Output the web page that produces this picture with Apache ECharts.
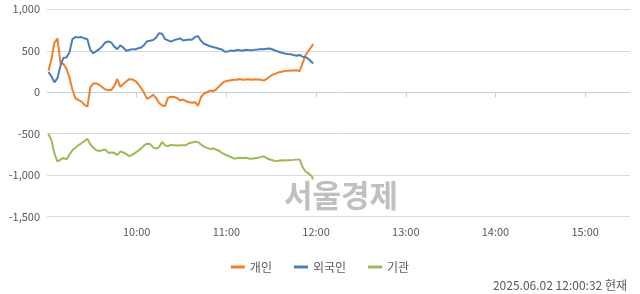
<!DOCTYPE html>
<html><head><meta charset="utf-8">
<script src="https://cdn.jsdelivr.net/npm/echarts@6/dist/echarts.min.js"></script>
<style>html,body{margin:0;padding:0;background:#fff}#c{width:640px;height:294px}</style>
</head><body><div id="c"></div>
<script>
// minutes after 09:00
var times = [1,3,5,7,9,11,13,15,17,19,21,23,25,27,29,31,33,35,37,39,41,43,45,47,49,51,53,55,57,59,61,63,65,67,69,71,73,75,77,79,81,83,85,87,89,91,93,95,97,99,101,103,105,107,109,111,113,115,117,119,121,123,125,127,129,131,133,135,137,139,141,143,145,147,149,151,153,155,157,159,161,163,165,167,169,171,173,175,177,178];
var individual = [258,400,600,650,350,340,285,180,30,-70,-95,-110,-150,-175,60,107,107,90,60,35,25,30,75,160,65,100,130,158,155,138,100,50,-10,-80,-60,-30,-70,-130,-160,-165,-65,-55,-58,-70,-100,-88,-108,-120,-127,-120,-165,-60,-15,0,20,15,30,70,105,131,138,145,152,150,160,150,155,158,152,158,155,150,140,160,190,212,225,240,248,255,258,262,262,265,255,350,450,500,550,583];
var foreign = [245,190,120,170,320,416,420,480,640,665,660,665,650,640,510,470,495,520,555,600,612,600,550,520,565,540,500,510,520,515,530,540,570,615,620,630,660,712,705,640,625,610,628,638,650,625,630,635,632,665,678,620,585,570,555,545,537,525,515,488,490,505,498,510,505,500,512,508,505,512,515,520,518,525,528,515,500,488,476,468,462,458,448,440,450,428,425,400,365,345];
var institution = [-500,-580,-740,-835,-812,-790,-810,-750,-700,-670,-640,-615,-590,-560,-630,-665,-700,-708,-700,-690,-728,-725,-730,-755,-715,-725,-745,-770,-755,-730,-705,-680,-640,-620,-625,-665,-680,-660,-600,-640,-650,-632,-640,-642,-640,-638,-638,-615,-605,-595,-600,-630,-655,-670,-683,-678,-690,-705,-730,-750,-765,-780,-800,-795,-790,-792,-790,-798,-802,-795,-790,-782,-772,-795,-810,-820,-830,-825,-820,-822,-818,-820,-815,-812,-810,-900,-955,-980,-1010,-1048];
var seriesNames = ['개인','외국인','기관'];
var hourTicks = [60,120,180,240,300,360];
var hourLabels = ['10:00','11:00','12:00','13:00','14:00','15:00'];
var stampText = '2025.06.02 12:00:32 현재';
var watermark = '서울경제';

function pairs(v){ return times.map(function(t,i){ return [t, v[i]]; }); }
var colors = ['#F07F2A','#4A7EBB','#9BBB59'];
var font = '"Noto Sans CJK KR", "Noto Sans", sans-serif';
var chart = echarts.init(document.getElementById('c'), null, {renderer:'canvas'});
chart.setOption({
  animation:false,
  color: colors,
  grid:{left:47, right:10, top:9.3, bottom:77.3, containLabel:false},
  legend:{
    data: seriesNames, top:256, left:'center', icon:'rect', itemWidth:14, itemHeight:3, itemGap:22,
    textStyle:{color:'#595959', fontSize:12, fontFamily:font}
  },
  xAxis:{
    type:'value', min:0, max:390,
    axisLine:{show:true, lineStyle:{color:'#C5D0E3', width:1}},
    axisTick:{show:true, length:5, customValues: hourTicks, lineStyle:{color:'#C5D0E3'}},
    axisLabel:{customValues: hourTicks, margin:10, color:'#595959', fontSize:11, fontFamily:font,
      formatter:function(v){ return hourLabels[hourTicks.indexOf(v)] || ''; }},
    splitLine:{show:false}
  },
  yAxis:{
    type:'value', min:-1500, max:1000, interval:500,
    axisLine:{show:false}, axisTick:{show:false},
    axisLabel:{margin:7, color:'#595959', fontSize:11, fontFamily:font,
      formatter:function(v){ return v.toLocaleString('en-US'); }},
    splitLine:{lineStyle:{color:'#D9D9D9'}}
  },
  graphic:[
    {type:'text', left:284, top:180, z:-1, style:{text:watermark, font:'bold 31px "Noto Sans CJK KR"', fill:'#C0C0C0'}},
    {type:'text', right:13, top:279, style:{text:stampText, font:'12px ' + font, fill:'#595959'}}
  ],
  series: [individual, foreign, institution].map(function(v,i){
    return {name:seriesNames[i], type:'line', data:pairs(v), showSymbol:false, symbol:'none',
      lineStyle:{width:2, color:colors[i]}, itemStyle:{color:colors[i]}};
  })
});
</script></body></html>
